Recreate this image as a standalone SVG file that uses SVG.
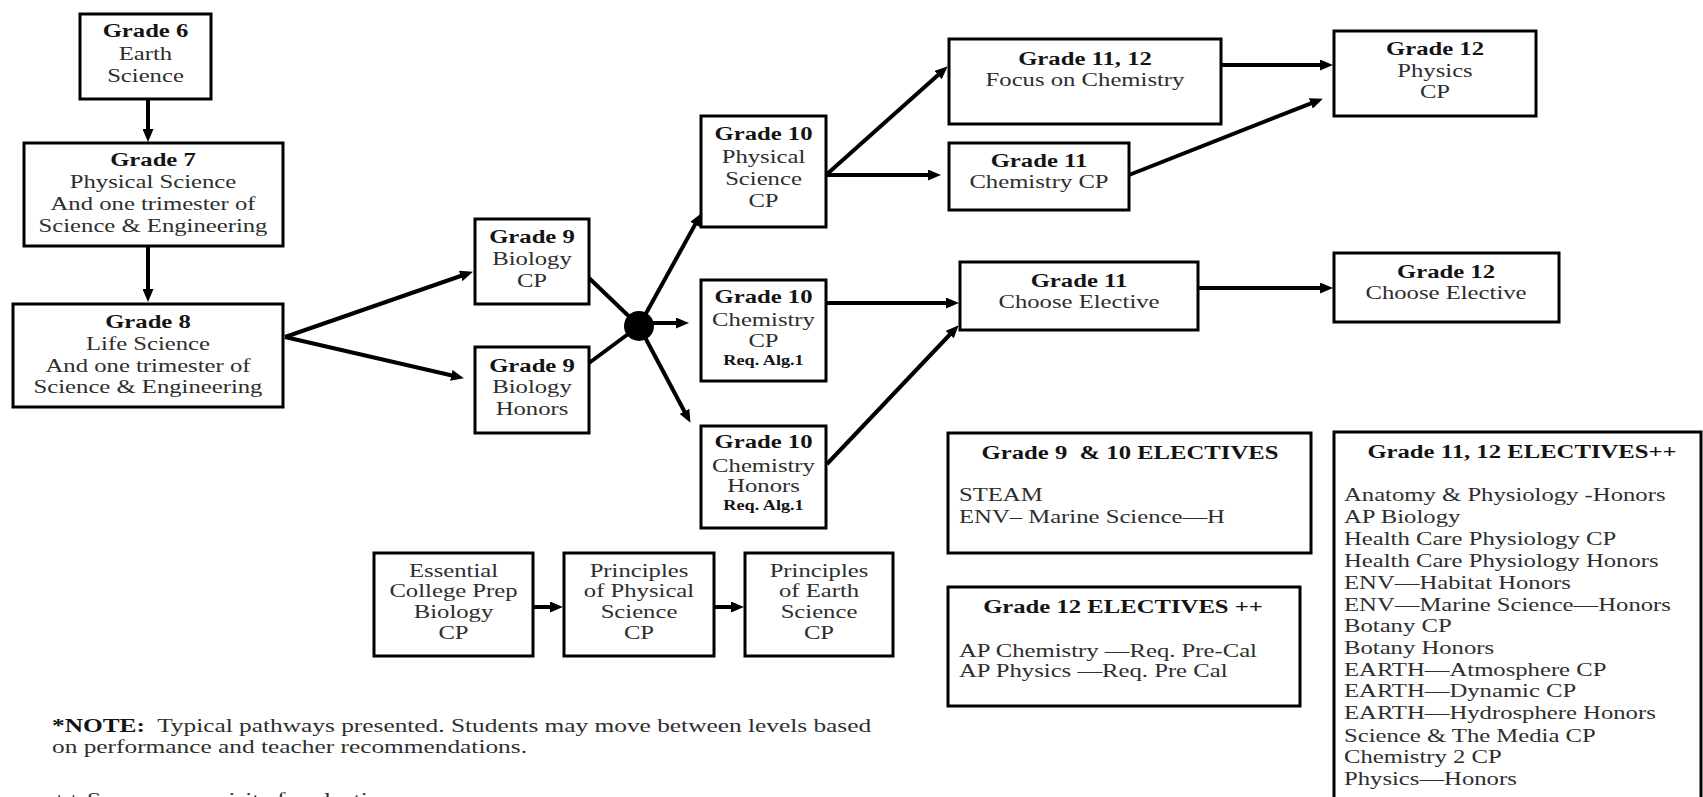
<svg xmlns="http://www.w3.org/2000/svg" width="1703" height="797" viewBox="0 0 1703 797">
<style>
.box{fill:#fff;stroke:#000;stroke-width:3}
.t{font-family:"Liberation Serif","Times New Roman",serif;font-size:19px;fill:#2e2e2e}
.b{font-weight:bold;fill:#141414}
.c{text-anchor:middle}
.s{font-size:14px}
.ln{stroke:#000;stroke-width:4;fill:none}
.ar{stroke:#000;stroke-width:4;fill:none;marker-end:url(#ah)}
</style>
<defs>
<marker id="ah" viewBox="0 0 13 11" refX="3" refY="5.5" markerWidth="13" markerHeight="11" markerUnits="userSpaceOnUse" orient="auto"><path d="M0,0 L13,5.5 L0,11 z" fill="#000"/></marker>
</defs>
<rect width="1703" height="797" fill="#fff"/>

<g id="connectors">
<line class="ar" x1="148" y1="99" x2="148" y2="132"/>
<line class="ar" x1="148" y1="246" x2="148" y2="292"/>
<line class="ar" x1="285" y1="337" x2="463.5" y2="275"/>
<line class="ar" x1="285" y1="337" x2="454.2" y2="376"/>
<line class="ln" x1="589" y1="278" x2="639" y2="326"/>
<line class="ln" x1="589" y1="363" x2="639" y2="326"/>
<line class="ar" x1="639" y1="326" x2="696.6" y2="221.9"/>
<line class="ar" x1="650" y1="323" x2="679" y2="323"/>
<line class="ar" x1="639" y1="326" x2="685.8" y2="414"/>
<circle cx="639" cy="326" r="15" fill="#000"/>
<line class="ar" x1="826" y1="175" x2="940.3" y2="73"/>
<line class="ar" x1="826" y1="175" x2="931" y2="175"/>
<line class="ar" x1="1221" y1="65" x2="1323" y2="65"/>
<line class="ar" x1="1129" y1="175" x2="1313.6" y2="102.3"/>
<line class="ar" x1="826" y1="303" x2="949" y2="303"/>
<line class="ar" x1="827" y1="464" x2="951.8" y2="332.5"/>
<line class="ar" x1="1198" y1="288" x2="1323" y2="288"/>
<line class="ar" x1="533" y1="607" x2="553" y2="607"/>
<line class="ar" x1="714" y1="607" x2="734" y2="607"/>
</g>

<g id="g6">
<rect class="box" x="80" y="14" width="131" height="85"/>
<text class="t c" transform="matrix(1.3 0 0 1 145.5 0)"><tspan class="b" x="0" y="37">Grade 6</tspan><tspan x="0" y="60">Earth</tspan><tspan x="0" y="82">Science</tspan></text>
</g>

<g id="g7">
<rect class="box" x="24" y="143" width="259" height="103"/>
<text class="t c" transform="matrix(1.3 0 0 1 153 0)"><tspan class="b" x="0" y="166">Grade 7</tspan><tspan x="0" y="188">Physical Science</tspan><tspan x="0" y="210">And one trimester of</tspan><tspan x="0" y="232">Science &amp; Engineering</tspan></text>
</g>

<g id="g8">
<rect class="box" x="13" y="304" width="270" height="103"/>
<text class="t c" transform="matrix(1.3 0 0 1 148 0)"><tspan class="b" x="0" y="328">Grade 8</tspan><tspan x="0" y="350">Life Science</tspan><tspan x="0" y="372">And one trimester of</tspan><tspan x="0" y="393">Science &amp; Engineering</tspan></text>
</g>

<g id="g9cp">
<rect class="box" x="475" y="219" width="114" height="85"/>
<text class="t c" transform="matrix(1.3 0 0 1 532 0)"><tspan class="b" x="0" y="243">Grade 9</tspan><tspan x="0" y="265">Biology</tspan><tspan x="0" y="287">CP</tspan></text>
</g>

<g id="g9h">
<rect class="box" x="475" y="347" width="114" height="86"/>
<text class="t c" transform="matrix(1.3 0 0 1 532 0)"><tspan class="b" x="0" y="372">Grade 9</tspan><tspan x="0" y="393">Biology</tspan><tspan x="0" y="415">Honors</tspan></text>
</g>

<g id="g10ps">
<rect class="box" x="701" y="116" width="125" height="111"/>
<text class="t c" transform="matrix(1.3 0 0 1 763.5 0)"><tspan class="b" x="0" y="140">Grade 10</tspan><tspan x="0" y="163">Physical</tspan><tspan x="0" y="185">Science</tspan><tspan x="0" y="207">CP</tspan></text>
</g>

<g id="g10ccp">
<rect class="box" x="701" y="280" width="125" height="101"/>
<text class="t c" transform="matrix(1.3 0 0 1 763.5 0)"><tspan class="b" x="0" y="303">Grade 10</tspan><tspan x="0" y="326">Chemistry</tspan><tspan x="0" y="347">CP</tspan><tspan class="b s" x="0" y="365">Req. Alg.1</tspan></text>
</g>

<g id="g10ch">
<rect class="box" x="701" y="426" width="125" height="102"/>
<text class="t c" transform="matrix(1.3 0 0 1 763.5 0)"><tspan class="b" x="0" y="448">Grade 10</tspan><tspan x="0" y="472">Chemistry</tspan><tspan x="0" y="492">Honors</tspan><tspan class="b s" x="0" y="510">Req. Alg.1</tspan></text>
</g>

<g id="g1112focus">
<rect class="box" x="949" y="39" width="272" height="85"/>
<text class="t c" transform="matrix(1.3 0 0 1 1085 0)"><tspan class="b" x="0" y="65">Grade 11, 12</tspan><tspan x="0" y="86">Focus on Chemistry</tspan></text>
</g>

<g id="g11chem">
<rect class="box" x="949" y="143" width="180" height="67"/>
<text class="t c" transform="matrix(1.3 0 0 1 1039 0)"><tspan class="b" x="0" y="167">Grade 11</tspan><tspan x="0" y="188">Chemistry CP</tspan></text>
</g>

<g id="g12phys">
<rect class="box" x="1334" y="31" width="202" height="85"/>
<text class="t c" transform="matrix(1.3 0 0 1 1435 0)"><tspan class="b" x="0" y="55">Grade 12</tspan><tspan x="0" y="77">Physics</tspan><tspan x="0" y="98">CP</tspan></text>
</g>

<g id="g11elec">
<rect class="box" x="960" y="262" width="238" height="68"/>
<text class="t c" transform="matrix(1.3 0 0 1 1079 0)"><tspan class="b" x="0" y="287">Grade 11</tspan><tspan x="0" y="308">Choose Elective</tspan></text>
</g>

<g id="g12elec">
<rect class="box" x="1334" y="253" width="225" height="69"/>
<text class="t c" transform="matrix(1.3 0 0 1 1446 0)"><tspan class="b" x="0" y="278">Grade 12</tspan><tspan x="0" y="299">Choose Elective</tspan></text>
</g>

<g id="e910">
<rect class="box" x="948" y="433" width="363" height="120"/>
<text class="t b c" xml:space="preserve" transform="matrix(1.3 0 0 1 1130 0)" x="0" y="459">Grade 9  &amp; 10 ELECTIVES</text>
<text class="t" transform="matrix(1.3 0 0 1 959 0)"><tspan x="0" y="501">STEAM</tspan><tspan x="0" y="523">ENV– Marine Science—H</tspan></text>
</g>

<g id="e12">
<rect class="box" x="948" y="587" width="352" height="119"/>
<text class="t b c" transform="matrix(1.3 0 0 1 1123 0)" x="0" y="613">Grade 12 ELECTIVES ++</text>
<text class="t" transform="matrix(1.3 0 0 1 959 0)"><tspan x="0" y="657">AP Chemistry —Req. Pre-Cal</tspan><tspan x="0" y="677">AP Physics —Req. Pre Cal</tspan></text>
</g>

<g id="e1112">
<rect class="box" x="1334" y="432" width="367" height="400"/>
<text class="t b c" transform="matrix(1.3 0 0 1 1522 0)" x="0" y="458">Grade 11, 12 ELECTIVES++</text>
<text class="t" transform="matrix(1.3 0 0 1 1344 0)"><tspan x="0" y="501">Anatomy &amp; Physiology -Honors</tspan><tspan x="0" y="523">AP Biology</tspan><tspan x="0" y="545">Health Care Physiology CP</tspan><tspan x="0" y="567">Health Care Physiology Honors</tspan><tspan x="0" y="589">ENV—Habitat Honors</tspan><tspan x="0" y="611">ENV—Marine Science—Honors</tspan><tspan x="0" y="632">Botany CP</tspan><tspan x="0" y="654">Botany Honors</tspan><tspan x="0" y="676">EARTH—Atmosphere CP</tspan><tspan x="0" y="697">EARTH—Dynamic CP</tspan><tspan x="0" y="719">EARTH—Hydrosphere Honors</tspan><tspan x="0" y="742">Science &amp; The Media CP</tspan><tspan x="0" y="763">Chemistry 2 CP</tspan><tspan x="0" y="785">Physics—Honors</tspan></text>
</g>

<g id="ecp">
<rect class="box" x="374" y="553" width="159" height="103"/>
<text class="t c" transform="matrix(1.3 0 0 1 453.5 0)"><tspan x="0" y="577">Essential</tspan><tspan x="0" y="597">College Prep</tspan><tspan x="0" y="618">Biology</tspan><tspan x="0" y="639">CP</tspan></text>
</g>

<g id="pps">
<rect class="box" x="564" y="553" width="150" height="103"/>
<text class="t c" transform="matrix(1.3 0 0 1 639 0)"><tspan x="0" y="577">Principles</tspan><tspan x="0" y="597">of Physical</tspan><tspan x="0" y="618">Science</tspan><tspan x="0" y="639">CP</tspan></text>
</g>

<g id="pes">
<rect class="box" x="745" y="553" width="148" height="103"/>
<text class="t c" transform="matrix(1.3 0 0 1 819 0)"><tspan x="0" y="577">Principles</tspan><tspan x="0" y="597">of Earth</tspan><tspan x="0" y="618">Science</tspan><tspan x="0" y="639">CP</tspan></text>
</g>

<g id="note">
<text class="t" xml:space="preserve" transform="matrix(1.335 0 0 1 52 0)"><tspan x="0" y="732"><tspan class="b">*NOTE:</tspan>  Typical pathways presented. Students may move between levels based</tspan><tspan x="0" y="753">on performance and teacher recommendations.</tspan><tspan x="0" y="806">++ Some prerequisite for electives</tspan></text>
</g>
</svg>
